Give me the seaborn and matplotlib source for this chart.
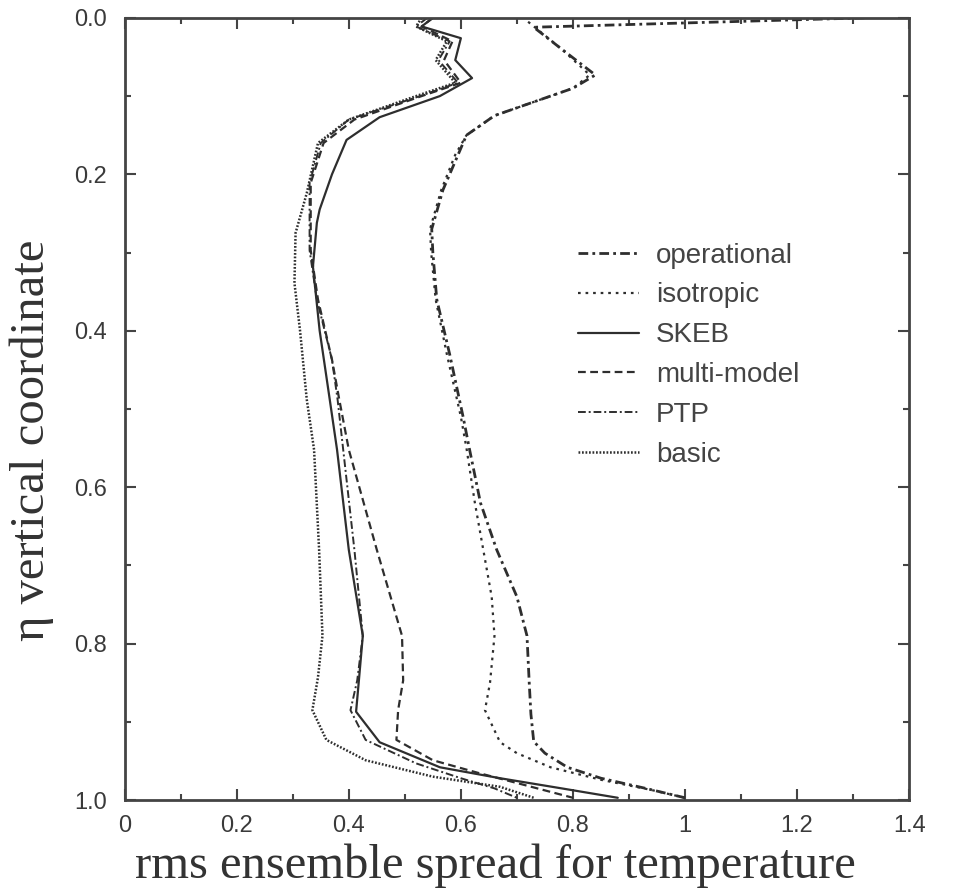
import numpy as np
import pandas as pd
import matplotlib
matplotlib.use("Agg")
import matplotlib.pyplot as plt
import seaborn as sns
from matplotlib.ticker import MultipleLocator, FuncFormatter

# eta levels and rms spread values
op_eta = [0.0, 0.012, 0.04, 0.073, 0.09, 0.11, 0.125, 0.15, 0.175, 0.22, 0.27, 0.30, 0.36, 0.43,
          0.51, 0.55, 0.62, 0.68, 0.74, 0.79, 0.85, 0.89, 0.925, 0.94, 0.958, 0.972, 0.985, 0.997]
op_x = [1.32, 0.73, 0.78, 0.84, 0.80, 0.72, 0.66, 0.61, 0.595, 0.568, 0.548, 0.55, 0.557, 0.58,
        0.604, 0.615, 0.635, 0.664, 0.70, 0.718, 0.722, 0.725, 0.73, 0.75, 0.79, 0.85, 0.93, 1.0]

iso_eta = [0.005, 0.04, 0.073, 0.09, 0.11, 0.125, 0.15, 0.175, 0.22, 0.27, 0.30, 0.36, 0.43, 0.51,
           0.55, 0.62, 0.68, 0.74, 0.79, 0.85, 0.885, 0.926, 0.94, 0.958, 0.974, 0.987, 0.997]
iso_x = [0.72, 0.78, 0.83, 0.80, 0.72, 0.66, 0.61, 0.59, 0.565, 0.545, 0.547, 0.555, 0.575, 0.60,
         0.61, 0.625, 0.64, 0.655, 0.66, 0.652, 0.643, 0.67, 0.70, 0.76, 0.85, 0.94, 1.0]

skeb_eta = [0.0, 0.011, 0.026, 0.054, 0.077, 0.10, 0.127, 0.156, 0.20, 0.245, 0.262, 0.318, 0.40,
            0.488, 0.552, 0.68, 0.79, 0.847, 0.887, 0.926, 0.958, 0.972, 0.985, 0.997]
skeb_x = [0.55, 0.53, 0.60, 0.59, 0.62, 0.5625, 0.455, 0.396, 0.37, 0.348, 0.343, 0.336, 0.348,
          0.366, 0.379, 0.40, 0.425, 0.418, 0.413, 0.455, 0.5625, 0.67, 0.78, 0.88]

mm_eta = [0.0, 0.011, 0.03, 0.054, 0.083, 0.10, 0.13, 0.16, 0.211, 0.297, 0.36, 0.437, 0.488,
          0.552, 0.68, 0.79, 0.847, 0.885, 0.923, 0.949, 0.965, 0.98, 0.997]
mm_x = [0.55, 0.53, 0.585, 0.57, 0.60, 0.53, 0.41, 0.355, 0.332, 0.332, 0.345, 0.37, 0.383,
        0.40, 0.45, 0.495, 0.497, 0.488, 0.485, 0.55, 0.63, 0.71, 0.80]

ptp_eta = [0.0, 0.011, 0.03, 0.054, 0.083, 0.10, 0.13, 0.16, 0.211, 0.297, 0.36, 0.437, 0.488,
           0.552, 0.68, 0.79, 0.847, 0.885, 0.923, 0.953, 0.972, 0.985, 0.997]
ptp_x = [0.54, 0.52, 0.58, 0.56, 0.595, 0.527, 0.40, 0.35, 0.33, 0.33, 0.343, 0.37, 0.38,
         0.39, 0.41, 0.425, 0.415, 0.403, 0.43, 0.52, 0.60, 0.66, 0.70]

basic_eta = [0.0, 0.011, 0.03, 0.054, 0.083, 0.10, 0.13, 0.16, 0.224, 0.275, 0.339, 0.40, 0.488,
             0.552, 0.68, 0.79, 0.843, 0.885, 0.923, 0.949, 0.97, 0.983, 0.997]
basic_x = [0.53, 0.52, 0.575, 0.555, 0.59, 0.52, 0.40, 0.345, 0.325, 0.305, 0.303, 0.313, 0.325,
           0.338, 0.347, 0.353, 0.345, 0.335, 0.36, 0.43, 0.55, 0.67, 0.73]

names = ["operational", "isotropic", "SKEB", "multi-model", "PTP", "basic"]
etas = [op_eta, iso_eta, skeb_eta, mm_eta, ptp_eta, basic_eta]
xs = [op_x, iso_x, skeb_x, mm_x, ptp_x, basic_x]

# line looks for each experiment
styles = {
    "operational": dict(ls=(0, (3.5, 1.5, 1, 1.5)), lw=2.0),
    "isotropic": dict(ls=(0, (1.2, 2.2)), lw=1.6),
    "SKEB": dict(ls="-", lw=1.6),
    "multi-model": dict(ls=(0, (3.5, 2)), lw=1.6),
    "PTP": dict(ls=(0, (4, 1.5, 1, 1.5)), lw=1.4),
    "basic": dict(ls=(0, (0.7, 0.7)), lw=1.8),
}

frames = []
for n, e, x in zip(names, etas, xs):
    frames.append(pd.DataFrame({"run": n, "eta": e, "spread": x}))
df = pd.concat(frames, ignore_index=True)

sns.set_style("ticks")
plt.rcParams["font.family"] = ["Liberation Sans", "DejaVu Sans"]

fig = plt.figure(figsize=(9.59, 8.93), dpi=100)
ax = fig.add_axes([0.130, 0.104, 0.818, 0.876])

col = "#2e2e2e"
for n in names:
    sub = df[df["run"] == n]
    sns.lineplot(data=sub, x="spread", y="eta", sort=False, estimator=None, ax=ax,
                 color=col, linestyle=styles[n]["ls"], linewidth=styles[n]["lw"], label=n)

ax.set_xlim(0, 1.4)
ax.set_ylim(1.0, 0.0)
ax.xaxis.set_major_locator(MultipleLocator(0.2))
ax.xaxis.set_minor_locator(MultipleLocator(0.1))
ax.yaxis.set_major_locator(MultipleLocator(0.2))
ax.yaxis.set_minor_locator(MultipleLocator(0.1))
ax.xaxis.set_major_formatter(FuncFormatter(lambda v, p: f"{v:g}" if abs(v) > 1e-9 else "0"))
ax.yaxis.set_major_formatter(FuncFormatter(lambda v, p: f"{v:.1f}"))
ax.tick_params(which="both", direction="in", top=True, right=True, color="#444444", width=1.5)
ax.tick_params(which="major", length=8, labelsize=17, labelcolor="#3a3a3a")
ax.tick_params(axis="y", which="major", pad=13)
ax.tick_params(axis="x", which="major", pad=11)
ax.tick_params(which="minor", length=4)
for s in ax.spines.values():
    s.set_linewidth(2.0)
    s.set_color("#444444")

ax.set_xlabel("rms ensemble spread for temperature", family="Liberation Serif",
              fontsize=35, color="#333333")
ax.xaxis.set_label_coords(0.473, -0.056)
ax.set_ylabel("\u03b7 vertical coordinate", family=["Liberation Serif", "DejaVu Serif"],
              fontsize=35, color="#333333")
ax.yaxis.set_label_coords(-0.09, 0.46)

leg = ax.legend(loc="upper left", bbox_to_anchor=(0.564, 0.727), frameon=False,
                borderaxespad=0, fontsize=20, handlelength=2.2, handletextpad=0.6,
                labelspacing=0.5, labelcolor="#444444")

fig.savefig("out.png", dpi=100)
